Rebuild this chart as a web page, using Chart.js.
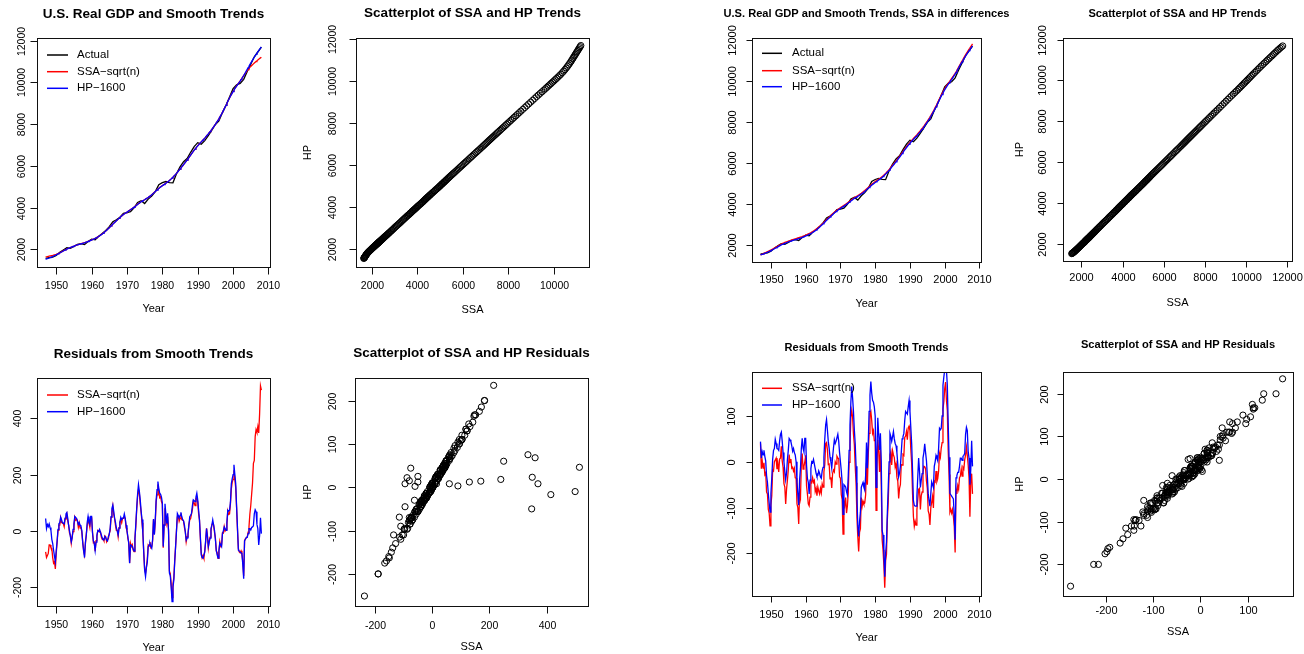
<!DOCTYPE html>
<html>
<head>
<meta charset="utf-8">
<title>SSA and HP trends of U.S. real GDP</title>
<script src="https://cdn.jsdelivr.net/npm/chart.js@4.4.1/dist/chart.umd.min.js"></script>
<style>
  html, body { margin: 0; padding: 0; background: #fff; }
  #wrap { position: relative; width: 1304px; height: 654px; overflow: hidden; background: #fff; }
  #wrap canvas { position: absolute; left: 0; top: 0; }
</style>
</head>
<body>
<div id="wrap"></div>
<script>
// ---- time axes ----
const years = [];
for (let y = 1947; y <= 2008; y++) years.push(y);             // actual GDP, annual
const quarters = [];
for (let i = 0; i < 245; i++) quarters.push(1947 + i / 4);    // 1947Q1 .. 2008Q1

// ---- levels ----
const gdpActual = [1570, 1610, 1633, 1716, 1860, 1970, 2080, 2050, 2140, 2240,
  2280, 2230, 2380, 2490, 2460, 2630, 2760, 2910, 3090, 3330,
  3420, 3540, 3730, 3760, 3810, 3990, 4250, 4330, 4200, 4410,
  4560, 4770, 5100, 5200, 5250, 5200, 5190, 5620, 5950, 6200,
  6350, 6650, 6920, 7110, 7040, 7210, 7450, 7710, 7980, 8150,
  8550, 8900, 9300, 9700, 9880, 9950, 10140, 10520, 10870, 11220,
  11450, 11680];

// trends, quarterly (4 per row-year)
const ssaTrend = [
  1640, 1650, 1660, 1670,  1680, 1690, 1700, 1710,  1720, 1732, 1745, 1757,  1770, 1786, 1803, 1821,   // 1947-50
  1840, 1862, 1884, 1907,  1930, 1953, 1976, 1998,  2020, 2039, 2057, 2074,  2090, 2108, 2126, 2143,   // 1951-54
  2160, 2176, 2192, 2206,  2220, 2234, 2248, 2262,  2275, 2287, 2299, 2310,  2320, 2335, 2351, 2368,   // 1955-58
  2385, 2401, 2418, 2436,  2455, 2473, 2492, 2511,  2530, 2552, 2575, 2600,  2625, 2654, 2683, 2714,   // 1959-62
  2745, 2779, 2813, 2849,  2885, 2923, 2962, 3001,  3040, 3083, 3126, 3170,  3215, 3255, 3294, 3332,   // 1963-66
  3370, 3411, 3452, 3491,  3530, 3567, 3604, 3640,  3675, 3705, 3734, 3762,  3790, 3818, 3847, 3876,   // 1967-70
  3905, 3933, 3962, 3991,  4020, 4054, 4088, 4124,  4160, 4193, 4225, 4255,  4285, 4310, 4334, 4357,   // 1971-74
  4380, 4407, 4435, 4462,  4490, 4522, 4555, 4587,  4620, 4658, 4697, 4736,  4775, 4813, 4852, 4891,   // 1975-78
  4930, 4962, 4994, 5025,  5055, 5085, 5115, 5145,  5175, 5206, 5237, 5268,  5300, 5339, 5378, 5416,   // 1979-82
  5455, 5500, 5545, 5592,  5640, 5692, 5745, 5797,  5850, 5902, 5955, 6007,  6060, 6115, 6170, 6225,   // 1983-86
  6280, 6340, 6400, 6460,  6520, 6579, 6638, 6696,  6755, 6808, 6862, 6913,  6965, 7012, 7060, 7105,   // 1987-90
  7150, 7195, 7240, 7285,  7330, 7380, 7430, 7480,  7530, 7585, 7640, 7695,  7750, 7810, 7870, 7930,   // 1991-94
  7990, 8057, 8124, 8192,  8260, 8335, 8410, 8485,  8560, 8645, 8730, 8815,  8900, 8990, 9080, 9165,   // 1995-98
  9250, 9331, 9412, 9491,  9570, 9637, 9704, 9767,  9830, 9891, 9952, 10011, 10070, 10133, 10195, 10258, // 1999-02
  10320, 10383, 10445, 10503, 10560, 10613, 10665, 10713, 10760, 10801, 10842, 10881, 10920, 10958, 10996, 11033, // 2003-06
  11070, 11103, 11136, 11168, 11200];                                                                 // 2007-08
const hpTrend = [
  1530, 1545, 1560, 1575,  1590, 1607, 1625, 1642,  1660, 1680, 1700, 1720,  1740, 1762, 1785, 1807,
  1830, 1854, 1878, 1901,  1925, 1949, 1973, 1997,  2020, 2038, 2056, 2073,  2090, 2107, 2125, 2142,
  2160, 2175, 2191, 2205,  2220, 2233, 2246, 2258,  2270, 2282, 2295, 2307,  2320, 2334, 2349, 2364,
  2380, 2397, 2414, 2432,  2450, 2469, 2489, 2509,  2530, 2551, 2573, 2596,  2620, 2649, 2678, 2709,
  2740, 2774, 2808, 2844,  2880, 2919, 2958, 2999,  3040, 3082, 3124, 3167,  3210, 3250, 3291, 3330,
  3370, 3410, 3451, 3490,  3530, 3566, 3602, 3636,  3670, 3701, 3732, 3761,  3790, 3818, 3846, 3873,
  3900, 3929, 3958, 3989,  4020, 4052, 4084, 4117,  4150, 4183, 4216, 4248,  4280, 4306, 4332, 4356,
  4380, 4407, 4434, 4462,  4490, 4521, 4553, 4586,  4620, 4657, 4694, 4732,  4770, 4808, 4846, 4883,
  4920, 4953, 4986, 5018,  5050, 5080, 5109, 5139,  5170, 5201, 5233, 5266,  5300, 5339, 5378, 5419,
  5460, 5504, 5548, 5594,  5640, 5692, 5744, 5797,  5850, 5902, 5954, 6007,  6060, 6114, 6168, 6224,
  6280, 6339, 6399, 6459,  6520, 6578, 6636, 6693,  6750, 6803, 6857, 6908,  6960, 7008, 7056, 7103,
  7150, 7194, 7239, 7284,  7330, 7379, 7428, 7479,  7530, 7584, 7638, 7694,  7750, 7809, 7868, 7929,
  7990, 8056, 8122, 8191,  8260, 8334, 8408, 8484,  8560, 8644, 8728, 8814,  8900, 8988, 9077, 9163,
  9250, 9329, 9408, 9484,  9560, 9627, 9694, 9757,  9820, 9880, 9941, 10000, 10060, 10124, 10188, 10254,
  10320, 10394, 10468, 10544, 10620, 10696, 10772, 10846, 10920, 10991, 11062, 11131, 11200, 11266, 11332, 11396,
  11460, 11518, 11577, 11634, 11690];
const ssaDiffTrend = [
  1530, 1549, 1568, 1589,  1610, 1630, 1650, 1670,  1690, 1711, 1732, 1753,  1775, 1798, 1822, 1846,
  1870, 1894, 1918, 1941,  1965, 1989, 2013, 2037,  2060, 2080, 2100, 2120,  2140, 2155, 2170, 2185,
  2200, 2216, 2232, 2248,  2265, 2278, 2290, 2302,  2315, 2328, 2342, 2356,  2370, 2383, 2397, 2411,
  2425, 2442, 2459, 2477,  2495, 2514, 2534, 2554,  2575, 2596, 2618, 2641,  2665, 2692, 2720, 2750,
  2780, 2814, 2849, 2884,  2920, 2959, 2998, 3039,  3080, 3123, 3166, 3210,  3255, 3294, 3334, 3372,
  3410, 3452, 3494, 3535,  3575, 3610, 3646, 3680,  3715, 3744, 3773, 3801,  3830, 3857, 3884, 3912,
  3940, 3969, 3999, 4029,  4060, 4092, 4124, 4157,  4190, 4223, 4256, 4288,  4320, 4344, 4368, 4391,
  4415, 4443, 4472, 4501,  4530, 4563, 4597, 4631,  4665, 4702, 4740, 4777,  4815, 4854, 4893, 4931,
  4970, 5001, 5033, 5064,  5095, 5125, 5155, 5185,  5215, 5245, 5276, 5308,  5340, 5378, 5416, 5455,
  5495, 5540, 5586, 5633,  5680, 5733, 5786, 5840,  5895, 5946, 5998, 6051,  6105, 6159, 6213, 6269,
  6325, 6385, 6445, 6505,  6565, 6624, 6683, 6741,  6800, 6853, 6906, 6958,  7010, 7056, 7102, 7148,
  7195, 7239, 7284, 7329,  7375, 7424, 7474, 7524,  7575, 7629, 7684, 7739,  7795, 7854, 7913, 7974,
  8035, 8101, 8168, 8236,  8305, 8380, 8455, 8532,  8610, 8694, 8778, 8864,  8950, 9037, 9125, 9212,
  9300, 9381, 9462, 9541,  9620, 9685, 9750, 9812,  9875, 9933, 9992, 10051, 10110, 10171, 10232, 10296,
  10360, 10435, 10510, 10585, 10660, 10737, 10815, 10892, 10970, 11042, 11114, 11187, 11260, 11327, 11394, 11462,
  11530, 11594, 11658, 11724, 11790];

// ---- residuals (quarterly) ----
const ssaResid = [
  -75, -95, -88, -80,   -50, -50, -60, -62,   -95, -115, -110, -135,  -80, -40, 2, 20,       // 1947-50
  20, 46, 30, 27,       26, 15, 42, 50,       60, 35, 20, -8,         -16, -44, -20, -3,     // 1951-54
  15, 48, 38, 42,       34, 12, 28, 10,       14, -8, -40, -72,       -86, -46, -12, 18,     // 1955-58
  40, 28, 12, 48,       48, -3, -42, -40,     -72, -35, -21, 2,       0, -4, -3, -22,        // 1959-62
  -30, -29, -36, -18,   -21, -39, -32, -27,   -9, 0, 48, 66,          88, 58, 44, 20,        // 1963-66
  2, 2, -21, 11,        30, 38, 28, 44,       44, 48, 44, 11,         2, -27, -40, -114,     // 1967-70
  -44, -56, -49, -68,   -74, -26, 15, 76,     122, 146, 132, 95,      66, 29, -7, -80,       // 1971-74
  -138, -150, -128, -100, -50, -54, -40, -60, -56, -36, 40, -11,      30, 104, 128, 165,     // 1975-78
  142, 118, 122, 104,   95, -60, 21, 80,      48, 26, 50, 2,          -143, -152, -189, -237, // 1979-82
  -189, -166, -105, -55, 2, 50, 52, 34,       44, 62, 40, 38,         35, 11, -3, -39,       // 1983-86
  -21, -17, 21, 39,     44, 60, 76, 104,      100, 90, 114, 118,      104, 62, 38, -27,      // 1987-90
  -78, -96, -88, -98,   -68, -39, 9, -17,     -60, -36, -22, 0,       21, 28, 21, -6,        // 1991-94
  -26, -72, -77, -98,   -73, -39, -55, -50,   -7, -8, 15, -1,         4, 20, 70, 58,         // 1995-98
  60, 95, 148, 172,     183, 215, 183, 152,   80, 1, -62, -75,        -78, -71, -83, -110,   // 1999-02
  -160, -35, -28, -25,  -22, -5, 15, 60,      90, 130, 170, 240,      250, 335, 360, 350,    // 2003-06
  370, 348, 415, 515,   500];                                                                // 2007-08
const hpResid = [
  44, 8, 22, 15,        25, 12, 2, -30,       -45, -69, -90, -110,    -70, -36, 5, 25,
  29, 49, 40, 29,       28, 25, 45, 60,       65, 45, 20, 0,          -20, -39, -25, 5,
  25, 51, 48, 44,       35, 23, 29, 20,       15, 0, -44, -70,        -95, -40, -15, 29,
  51, 30, 22, 51,       51, -7, -36, -45,     -70, -40, -15, 0,       -2, 5, -5, -15,
  -25, -32, -30, -20,   -25, -33, -36, -20,   -12, 10, 50, 80,        92, 70, 45, 30,
  10, 0, -14, 10,       30, 48, 40, 45,       45, 60, 45, 20,         0, -20, -45, -115,
  -50, -52, -55, -65,   -72, -30, 25, 80,     130, 164, 140, 110,     70, 40, -10, -77,
  -140, -163, -130, -110, -56, -50, -45, -56, -62, -30, 42, -14,      40, 110, 146, 175,
  150, 134, 130, 120,   100, -56, 20, 96,     60, 26, 62, 0,          -150, -160, -200, -251,
  -200, -175, -110, -56, 0, 62, 55, 45,       55, 66, 50, 40,         35, 20, -5, -33,
  -25, -10, 20, 50,     55, 62, 90, 110,      107, 104, 120, 134,     110, 75, 39, -20,
  -85, -95, -97, -97,   -75, -33, 8, -20,     -56, -40, -26, 8,       20, 39, 20, 2,
  -30, -69, -85, -97,   -70, -44, -50, -56,   -10, 0, 14, 8,          2, 30, 73, 70,
  73, 100, 167, 185,    200, 235, 200, 167,   85, 10, -69, -72,       -75, -78, -81, -120,
  -170, -35, -30, -23,  -23, -10, 8, 8,       3, 12, 14, 18,          60, 75, 68, 23,
  8, -50, -17, 46,      -10];
const ssaDiffResid = [
  40, -15, 2, -14,      -2, -28, -24, -66,    -70, -104, -112, -140,  -94, -74, -18, -20,
  0, 4, 8, -16,         -4, -22, 6, 8,        34, 2, -12, -48,        -55, -92, -60, -40,
  -18, 16, -2, 6,       -14, -12, -20, -14,   -35, -36, -92, -100,    -136, -70, -80, -5,
  18, -16, -10, 0,      14, -52, -70, -92,    -96, -77, -42, -45,     -35, -45, -41, -65,
  -58, -74, -55, -64,   -70, -58, -68, -48,   -55, -22, -6, 40,       42, 27, -6, -5,
  -37, -34, -57, -25,   -18, -22, 0, -5,      12, 8, 7, -33,          -36, -72, -82, -158,
  -86, -95, -78, -112,  -97, -68, -1, 36,     96, 112, 98, 60,        38, -10, -46, -122,
  -164, -196, -154, -146, -78, -97, -86, -92, -90, -72, -2, -50,      14, 62, 106, 110,
  90, 62, 68, 46,       46, -106, -14, 48,    25, -22, 26, -52,       -170, -192, -226, -275,
  -216, -202, -126, -89, -26, 15, 22, -7,     24, 15, 9, -11,         -4, -34, -42, -80,
  -58, -50, -6, -7,     16, 14, 53, 56,       66, 48, 74, 78,         68, 27, -4, -70,
  -120, -141, -130, -138, -105, -82, -60, -58, -104, -74, -66, -24,   -10, -11, -15, -42,
  -58, -107, -114, -138, -100, -88, -76, -101, -42, -44, -20, -43,    -37, -20, 18, 10,
  30, 42, 115, 131,     160, 174, 134, 112,   25, -28, -110, -104,    -112, -104, -120, -141,
  -198, -60, -70, -52,  -60, -35, -31, -16,   -31, -12, -16, 4,       15, 32, 14, -7,
  -36, -120, -39, -26,  -70];

// ---- tick labels ----
const yearTicks = [1950, 1960, 1970, 1980, 1990, 2000, 2010];
const levelTicks = [2000, 4000, 6000, 8000, 10000, 12000];
const ssaLevelTicks = [2000, 4000, 6000, 8000, 10000];
const residTicks200 = [-200, 0, 200, 400];
const residTicks100 = [-200, -100, 0, 100];
const hpResidTicks = [-200, -100, 0, 100, 200];

// ---- helpers ----
const RED = '#ff0000', BLUE = '#0000ff', BLACK = '#000000';
const FONT = '"Liberation Sans", Arial, Helvetica, sans-serif';

function pairs(xs, ys) { return xs.map((x, i) => ({ x: x, y: ys[i] })); }

function lineSet(label, xs, ys, color, order) {
  return { label: label, data: pairs(xs, ys), showLine: true, borderColor: color,
    borderWidth: 1.3, pointRadius: 0, fill: false, tension: 0, order: order };
}
function dotSet(label, xs, ys) {
  return { label: label, data: pairs(xs, ys), showLine: false, pointStyle: 'circle',
    pointRadius: 3.1, pointBorderWidth: 1, pointBorderColor: BLACK,
    pointBackgroundColor: 'rgba(0,0,0,0)', borderColor: BLACK, backgroundColor: 'rgba(0,0,0,0)' };
}

// R-style frame, ticks, titles and legend
function decor(p) {
  return {
    id: 'decor',
    afterDraw(chart) {
      const ctx = chart.ctx, a = chart.chartArea;
      const sx = chart.scales.x, sy = chart.scales.y;
      const L = Math.round(a.left) + 0.5, R = Math.round(a.right) + 0.5;
      const T = Math.round(a.top) + 0.5, B = Math.round(a.bottom) + 0.5;
      const cx = (a.left + a.right) / 2, cy = (a.top + a.bottom) / 2;
      ctx.save();
      ctx.strokeStyle = '#111';
      ctx.lineWidth = 1;
      ctx.strokeRect(L, T, R - L, B - T);
      ctx.fillStyle = '#000';
      ctx.textAlign = 'center';
      ctx.textBaseline = 'middle';
      ctx.font = p.tickFont;
      p.xTicks.forEach(v => {
        const x = Math.round(sx.getPixelForValue(v)) + 0.5;
        ctx.beginPath(); ctx.moveTo(x, B); ctx.lineTo(x, B + p.tick); ctx.stroke();
        ctx.fillText(String(v), x, p.xLabelY);
      });
      p.yTicks.forEach(v => {
        const y = Math.round(sy.getPixelForValue(v)) + 0.5;
        ctx.beginPath(); ctx.moveTo(L, y); ctx.lineTo(L - p.tick, y); ctx.stroke();
        ctx.save(); ctx.translate(p.yLabelX, y); ctx.rotate(-Math.PI / 2);
        ctx.fillText(String(v), 0, 0); ctx.restore();
      });
      ctx.font = p.titleFont;
      ctx.fillText(p.title, cx, p.titleY);
      ctx.font = '11px ' + FONT;
      ctx.fillText(p.xTitle, cx, p.xTitleY);
      if (p.yTitle) {
        ctx.save(); ctx.translate(p.yTitleX, cy); ctx.rotate(-Math.PI / 2);
        ctx.fillText(p.yTitle, 0, 0); ctx.restore();
      }
      if (p.legend) {
        const lg = p.legend;
        ctx.font = '11.5px ' + FONT;
        ctx.textAlign = 'left';
        lg.items.forEach((it, i) => {
          const y = lg.rows[i];
          ctx.strokeStyle = it.color; ctx.lineWidth = 1.5;
          ctx.beginPath(); ctx.moveTo(lg.x0, y); ctx.lineTo(lg.x1, y); ctx.stroke();
          ctx.fillText(it.label, lg.tx, y);
        });
      }
      ctx.restore();
    }
  };
}

function makePanel(p) {
  const c = document.createElement('canvas');
  c.width = 1304; c.height = 654;
  document.getElementById('wrap').appendChild(c);
  new Chart(c, {
    type: 'scatter',
    data: { datasets: p.datasets },
    options: {
      responsive: false,
      animation: false,
      events: [],
      layout: { padding: { left: p.box[0], top: p.box[1], right: 1304 - p.box[2], bottom: 654 - p.box[3] } },
      scales: {
        x: { type: 'linear', min: p.xr[0], max: p.xr[1], display: false },
        y: { type: 'linear', min: p.yr[0], max: p.yr[1], display: false }
      },
      plugins: { legend: { display: false }, tooltip: { enabled: false } }
    },
    plugins: [decor(p)]
  });
}

const bigTitle = 'bold 13.5px ' + FONT, smallTitle = 'bold 11.1px ' + FONT;
const leftTicks = '10.5px ' + FONT, rightTicks = '11px ' + FONT;
const legend3 = [{ label: 'Actual', color: BLACK }, { label: 'SSA\u2212sqrt(n)', color: RED }, { label: 'HP\u22121600', color: BLUE }];
const legend2 = [{ label: 'SSA\u2212sqrt(n)', color: RED }, { label: 'HP\u22121600', color: BLUE }];
const yearRange = [1944.56, 2010.44];

// top-left: levels and trends
makePanel({
  box: [37, 38, 270, 267], xr: yearRange, yr: [1160, 12120],
  datasets: [
    lineSet('Actual', years, gdpActual, BLACK, 2),
    lineSet('SSA-sqrt(n)', quarters, ssaTrend, RED, 1),
    lineSet('HP-1600', quarters, hpTrend, BLUE, 0)
  ],
  xTicks: yearTicks, yTicks: levelTicks, tick: 7, tickFont: leftTicks,
  xLabelY: 286, yLabelX: 22, title: 'U.S. Real GDP and Smooth Trends', titleFont: bigTitle, titleY: 14,
  xTitle: 'Year', xTitleY: 309,
  legend: { x0: 47, x1: 68, tx: 77, rows: [55, 71.7, 88.3], items: legend3 }
});

// top, second: scatter of trends
makePanel({
  box: [356, 38, 589, 267], xr: [1298, 11560], yr: [1120, 12050],
  datasets: [dotSet('trends', ssaTrend, hpTrend)],
  xTicks: ssaLevelTicks, yTicks: levelTicks, tick: 7, tickFont: leftTicks,
  xLabelY: 286, yLabelX: 333, title: 'Scatterplot of SSA and HP Trends', titleFont: bigTitle, titleY: 13.5,
  xTitle: 'SSA', xTitleY: 310, yTitle: 'HP', yTitleX: 308
});

// top, third: SSA in differences
makePanel({
  box: [752, 38, 981, 262], xr: yearRange, yr: [1188, 12078],
  datasets: [
    lineSet('Actual', years, gdpActual, BLACK, 2),
    lineSet('SSA-sqrt(n)', quarters, ssaDiffTrend, RED, 1),
    lineSet('HP-1600', quarters, hpTrend, BLUE, 0)
  ],
  xTicks: yearTicks, yTicks: levelTicks, tick: 6, tickFont: rightTicks,
  xLabelY: 280, yLabelX: 733, title: 'U.S. Real GDP and Smooth Trends, SSA in differences', titleFont: smallTitle, titleY: 13.5,
  xTitle: 'Year', xTitleY: 304,
  legend: { x0: 762, x1: 782, tx: 792, rows: [53.3, 70.7, 86.7], items: legend3 }
});

// top right: scatter of trends (differences)
makePanel({
  box: [1063, 38, 1292, 261], xr: [1105, 12243], yr: [1170, 12078],
  datasets: [dotSet('trends', ssaDiffTrend, hpTrend)],
  xTicks: levelTicks, yTicks: levelTicks, tick: 6, tickFont: rightTicks,
  xLabelY: 278, yLabelX: 1043, title: 'Scatterplot of SSA and HP Trends', titleFont: smallTitle, titleY: 14,
  xTitle: 'SSA', xTitleY: 303, yTitle: 'HP', yTitleX: 1020
});

// bottom-left: residuals
makePanel({
  box: [37, 378, 270, 606], xr: yearRange, yr: [-267, 543],
  datasets: [
    lineSet('SSA-sqrt(n)', quarters, ssaResid, RED, 1),
    lineSet('HP-1600', quarters, hpResid, BLUE, 0)
  ],
  xTicks: yearTicks, yTicks: residTicks200, tick: 7, tickFont: leftTicks,
  xLabelY: 625, yLabelX: 18.5, title: 'Residuals from Smooth Trends', titleFont: bigTitle, titleY: 354,
  xTitle: 'Year', xTitleY: 648,
  legend: { x0: 47, x1: 68, tx: 77, rows: [395, 411.7], items: legend2 }
});

// bottom, second: scatter of residuals
makePanel({
  box: [355, 378, 588, 606], xr: [-270, 545], yr: [-274, 252],
  datasets: [dotSet('residuals', ssaResid, hpResid)],
  xTicks: residTicks200, yTicks: hpResidTicks, tick: 7, tickFont: leftTicks,
  xLabelY: 626, yLabelX: 333, title: 'Scatterplot of SSA and HP Residuals', titleFont: bigTitle, titleY: 353.5,
  xTitle: 'SSA', xTitleY: 647, yTitle: 'HP', yTitleX: 308
});

// bottom, third: residuals, SSA in differences
makePanel({
  box: [752, 372, 981, 596], xr: yearRange, yr: [-293, 196],
  datasets: [
    lineSet('SSA-sqrt(n)', quarters, ssaDiffResid, RED, 1),
    lineSet('HP-1600', quarters, hpResid, BLUE, 0)
  ],
  xTicks: yearTicks, yTicks: residTicks100, tick: 6, tickFont: rightTicks,
  xLabelY: 615, yLabelX: 732, title: 'Residuals from Smooth Trends', titleFont: smallTitle, titleY: 347.5,
  xTitle: 'Year', xTitleY: 638,
  legend: { x0: 762, x1: 782, tx: 792, rows: [388.3, 405], items: legend2 }
});

// bottom right: scatter of residuals (differences)
makePanel({
  box: [1063, 372, 1293, 596], xr: [-291, 196], yr: [-274, 251],
  datasets: [dotSet('residuals', ssaDiffResid, hpResid)],
  xTicks: residTicks100, yTicks: hpResidTicks, tick: 6, tickFont: rightTicks,
  xLabelY: 611, yLabelX: 1045, title: 'Scatterplot of SSA and HP Residuals', titleFont: smallTitle, titleY: 345,
  xTitle: 'SSA', xTitleY: 632, yTitle: 'HP', yTitleX: 1020
});
</script>
</body>
</html>
